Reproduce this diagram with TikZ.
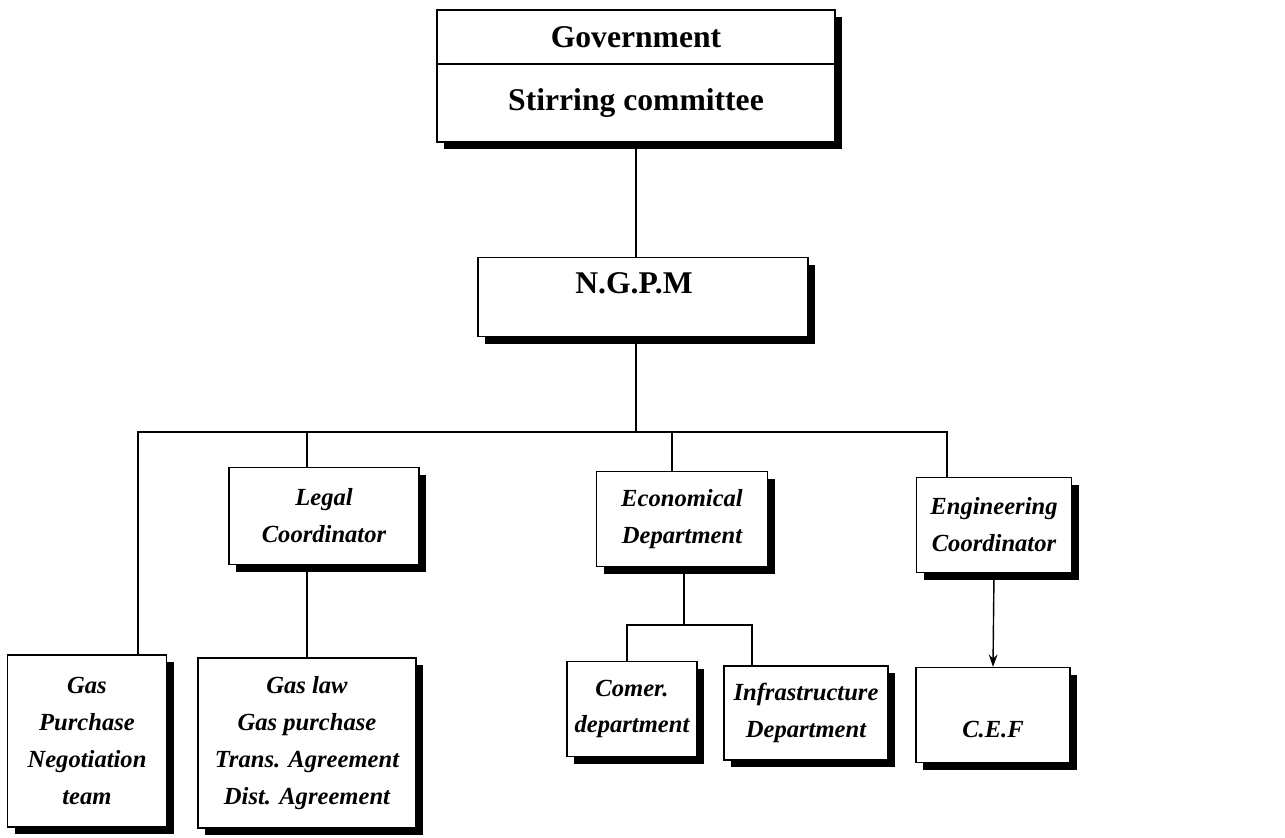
\documentclass[tikz,border=0pt]{standalone}
\usepackage{fontspec}
\setmainfont{Liberation Serif}
\usetikzlibrary{shadows,arrows.meta}
\tikzset{
  box/.style={draw, line width=0.8pt, fill=white,
    drop shadow={shadow xshift=4pt, shadow yshift=-4pt, opacity=1, fill=black},
    inner sep=2pt, align=center},
  head/.style={font=\bfseries\fontsize{18}{22}\selectfont},
  ital/.style={font=\bfseries\itshape\fontsize{14}{21}\selectfont, align=center},
  conn/.style={line width=0.8pt},
}
\begin{document}
\begin{tikzpicture}[x=0.02cm, y=-0.02cm]
\useasboundingbox (0,0) rectangle (1285,838);
% top box
\node[box, minimum width=7.96cm, minimum height=2.64cm] (gov) at (636,76) {};
\draw[conn] (gov.west |- 0,64) -- (gov.east |- 0,64);
\node[head] (govt) at (636,37) {Government};
\node[head] (stir) at (636,103) {Stirring committee};
% NGPM
\node[box, minimum width=6.6cm, minimum height=1.58cm] (ngpm) at (643,297) {};
\node[head] (ngpmt) at (634,283) {N.G.P.M};
% second level
\node[box, ital, minimum width=3.8cm, minimum height=1.94cm] (legal) at (324,516) {Legal\\Coordinator};
\node[box, ital, minimum width=3.42cm, minimum height=1.9cm] (econ) at (682,519) {Economical\\Department};
\node[box, ital, minimum width=3.1cm, minimum height=1.9cm] (eng) at (994,525) {Engineering\\Coordinator};
% third level
\node[box, ital, minimum width=3.18cm, minimum height=3.44cm] (gasp) at (87,741) {Gas\\Purchase\\Negotiation\\team};
\node[box, ital, minimum width=4.36cm, minimum height=3.4cm] (gaslaw) at (307,743) {Gas law\\Gas purchase\\Trans. Agreement\\Dist. Agreement};
\node[box, ital, minimum width=2.6cm, minimum height=1.9cm] (comer) at (632,709) {Comer.\\department};
\node[box, ital, minimum width=3.28cm, minimum height=1.88cm] (infra) at (806,713) {Infrastructure\\Department};
\node[box, minimum width=3.08cm, minimum height=1.9cm] (cef) at (993,715) {};
\node[ital] (ceft) at (993,730) {C.E.F};
% connectors
\coordinate (busL) at (138,432);
\coordinate (busR) at (947,432);
\coordinate (ecoD) at (672,432);
\coordinate (sub) at (684,625);
\coordinate (subL) at (627,625);
\coordinate (subR) at (752,625);
\draw[conn] (gov.south) -- (gov.south |- ngpm.north);
\draw[conn] (gov.south |- ngpm.south) -- (gov.south |- busL);
\draw[conn] (gasp.north -| busL) -- (busL) -- (busR) -- (eng.north -| busR);
\draw[conn] (gaslaw.north |- busL) -- (gaslaw.north |- legal.north);
\draw[conn] (ecoD) -- (econ.north -| ecoD);
\draw[conn] (gaslaw.north |- legal.south) -- (gaslaw.north);
\draw[conn] (econ.south -| sub) -- (sub);
\draw[conn] (comer.north -| subL) -- (subL) -- (subR) -- (infra.north -| subR);
\draw[conn, -{Stealth[length=7pt,width=5pt]}] (eng.south) -- (cef.north);
\end{tikzpicture}
\end{document}
